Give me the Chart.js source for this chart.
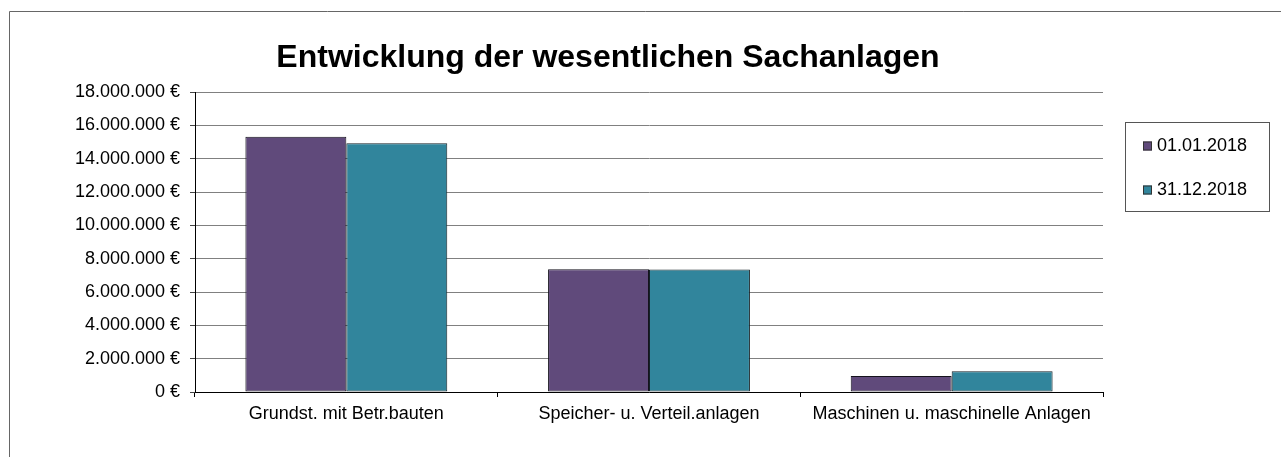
<!DOCTYPE html>
<html>
<head>
<meta charset="utf-8">
<script src="https://cdn.jsdelivr.net/npm/chart.js@4/dist/chart.umd.min.js"></script>
<style>
  body { margin: 0; background: #fff; }
  canvas { display: block; }
</style>
</head>
<body>
<canvas id="myChart" width="1281" height="457"></canvas>
<script>
const chartTitle = "Entwicklung der wesentlichen Sachanlagen";
const categories = ["Grundst. mit Betr.bauten", "Speicher- u. Verteil.anlagen", "Maschinen u. maschinelle Anlagen"];
const seriesNames = ["01.01.2018", "31.12.2018"];
const values0101 = [15320000, 7360000, 960000];
const values3112 = [14920000, 7350000, 1240000];
const yTickLabels = ["0 €", "2.000.000 €", "4.000.000 €", "6.000.000 €", "8.000.000 €",
    "10.000.000 €", "12.000.000 €", "14.000.000 €", "16.000.000 €", "18.000.000 €"];

const font = "'Liberation Sans', Arial, sans-serif";
const ctx = document.getElementById("myChart");

// frame, title and the boxed legend
const decorations = {
    id: "decorations",
    afterDraw(chart) {
        const c = chart.ctx;
        c.save();
        c.strokeStyle = "#666";
        c.lineWidth = 1;
        c.beginPath();
        c.moveTo(9.5, 457);
        c.lineTo(9.5, 11.5);
        c.lineTo(1281, 11.5);
        c.stroke();

        c.fillStyle = "#000";
        c.font = "bold 32px " + font;
        c.textAlign = "center";
        c.textBaseline = "alphabetic";
        c.fillText(chartTitle, 608, 67);

        c.strokeStyle = "#555";
        c.strokeRect(1125.5, 122.5, 144, 89);
        c.font = "18px " + font;
        c.textAlign = "left";
        c.textBaseline = "middle";
        chart.data.datasets.forEach((ds, i) => {
            const y = 146 + i * 44;
            c.fillStyle = ds.backgroundColor;
            c.fillRect(1143, y - 4.5, 9, 9);
            c.strokeStyle = "#333";
            c.strokeRect(1143.5, y - 4, 8, 8);
            c.fillStyle = "#000";
            c.fillText(ds.label, 1157, y);
        });
        c.restore();
    },
};

new Chart(ctx, {
    type: "bar",
    data: {
        labels: categories,
        datasets: [
            {
                label: seriesNames[0],
                data: values0101,
                backgroundColor: "#604A7B",
                borderColor: "#15131d",
                borderWidth: 1,
                borderSkipped: false,
            },
            {
                label: seriesNames[1],
                data: values3112,
                backgroundColor: "#31859C",
                borderColor: "#142127",
                borderWidth: 1,
                borderSkipped: false,
            },
        ],
    },
    options: {
        responsive: false,
        animation: false,
        layout: { padding: { left: 60, right: 178, top: 92, bottom: 20 } },
        categoryPercentage: 0.667,
        barPercentage: 1.0,
        plugins: {
            legend: { display: false },
            title: { display: false },
            tooltip: { enabled: false },
        },
        scales: {
            x: {
                afterFit: (scale) => { scale.height = 45; },
                grid: {
                    offset: true,
                    drawOnChartArea: false,
                    drawTicks: true,
                    tickLength: 5,
                    tickColor: "#000",
                },
                border: { color: "#000", width: 1 },
                ticks: {
                    color: "#000",
                    padding: 6,
                    font: { family: font, size: 18 },
                    maxRotation: 0,
                },
            },
            y: {
                min: 0,
                max: 18000000,
                afterFit: (scale) => { scale.width = 135; },
                grid: {
                    color: "#808080",
                    tickLength: 5,
                    tickColor: "#444",
                },
                border: { color: "#000", width: 1 },
                ticks: {
                    stepSize: 2000000,
                    color: "#000",
                    padding: 10,
                    font: { family: font, size: 18 },
                    callback: (v, i) => yTickLabels[i],
                },
            },
        },
    },
    plugins: [decorations],
});
</script>
</body>
</html>
